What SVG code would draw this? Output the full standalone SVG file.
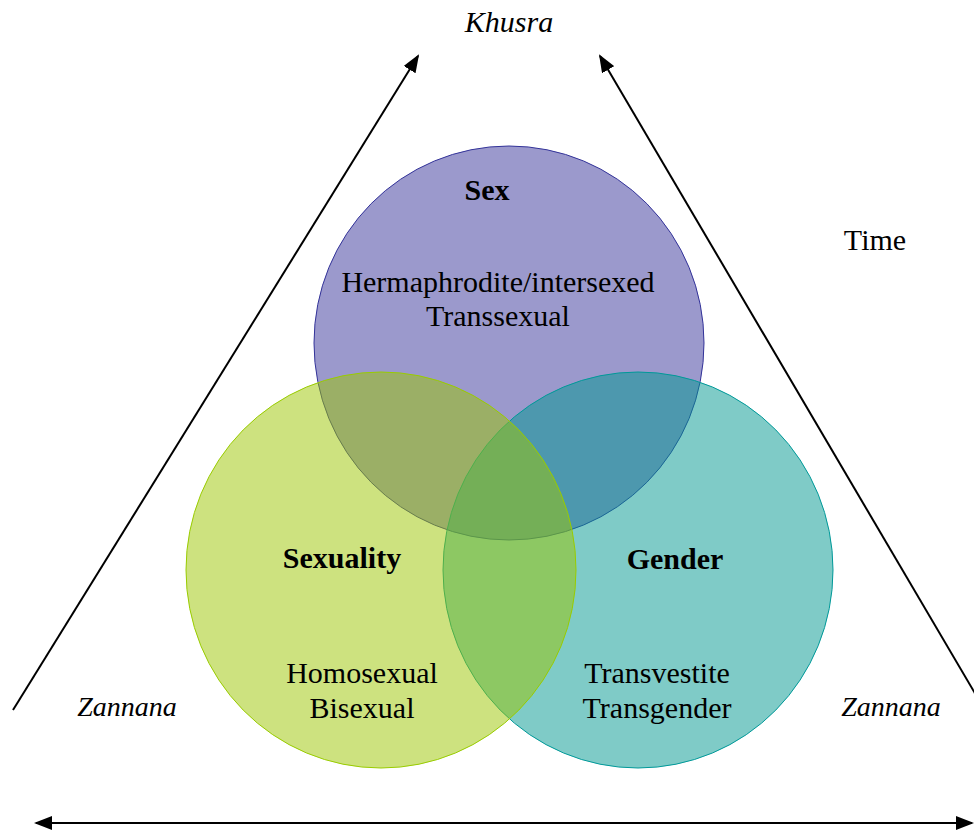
<svg xmlns="http://www.w3.org/2000/svg" width="974" height="832" viewBox="0 0 974 832">
<style>
text{font-family:"Liberation Serif","Times New Roman",serif;font-size:30px;fill:#000;text-anchor:middle}
.b{font-weight:bold}
.i{font-style:italic;font-size:28px}
.k{font-size:30px}
.ln{stroke:#000;stroke-width:2;fill:none}
</style>
<defs>
<marker id="ah" markerUnits="userSpaceOnUse" markerWidth="18" markerHeight="14" refX="16" refY="7" orient="auto-start-reverse" viewBox="0 0 18 14">
<path d="M0,0 L18,7 L0,14 Z" fill="#000"/>
</marker>
</defs>
<rect width="974" height="832" fill="#fff"/>
<g id="connectors">
<line class="ln" x1="13" y1="710" x2="418" y2="56" marker-end="url(#ah)"/>
<line class="ln" x1="976" y1="695" x2="600" y2="56" marker-end="url(#ah)"/>
<line class="ln" x1="36" y1="823" x2="972" y2="823" marker-start="url(#ah)" marker-end="url(#ah)"/>
</g>
<g id="sex">
<ellipse cx="509" cy="343" rx="195" ry="197" fill="#373399" fill-opacity="0.5" stroke="#333399" stroke-width="1"/>
</g>
<g id="gender">
<ellipse cx="638" cy="570" rx="195" ry="198" fill="#00978f" fill-opacity="0.5" stroke="#009999" stroke-width="1"/>
</g>
<g id="sexuality">
<ellipse cx="381" cy="570" rx="195" ry="198" fill="#9bc500" fill-opacity="0.5" stroke="#99cc00" stroke-width="1"/>
</g>
<g id="labels">
<text x="509" y="32" class="i k">Khusra</text>
<text x="875" y="250">Time</text>
<text x="487" y="200" class="b">Sex</text>
<text x="498" y="292">Hermaphrodite/intersexed</text>
<text x="498" y="326">Transsexual</text>
<text x="342" y="568" class="b">Sexuality</text>
<text x="362" y="683">Homosexual</text>
<text x="362" y="718">Bisexual</text>
<text x="675" y="569" class="b">Gender</text>
<text x="657" y="683">Transvestite</text>
<text x="657" y="718">Transgender</text>
<text x="127" y="716" class="i">Zannana</text>
<text x="891" y="716" class="i">Zannana</text>
</g>
</svg>
